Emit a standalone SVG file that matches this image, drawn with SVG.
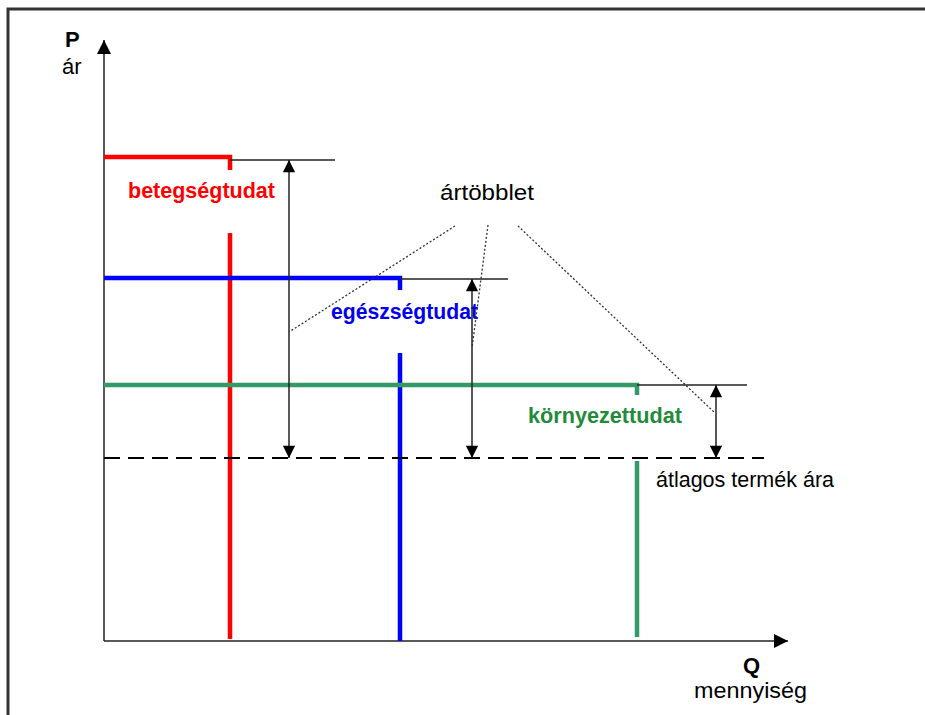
<svg xmlns="http://www.w3.org/2000/svg" width="925" height="715" viewBox="0 0 925 715">
<defs>
<marker id="ah" viewBox="0 0 12 16" refX="14" refY="7" markerWidth="14" markerHeight="14" markerUnits="userSpaceOnUse" orient="auto-start-reverse">
<path d="M0,0 L14,7 L0,14 Z" fill="#000"/>
</marker>
<marker id="ax" viewBox="0 0 14 14" refX="14" refY="7" markerWidth="14" markerHeight="14" markerUnits="userSpaceOnUse" orient="auto">
<path d="M0,0 L14,7 L0,14 Z" fill="#000"/>
</marker>
<style>
.t{font-family:"Liberation Sans",Arial,sans-serif;font-size:22px;fill:#000}
.b{font-weight:bold}
.thin{stroke:#222;stroke-width:1.5;fill:none}
.dot{stroke:#333;stroke-width:1.3;stroke-dasharray:2,2;fill:none}
.red{stroke:#ff0000;stroke-width:4.5;fill:none}
.blue{stroke:#0000ff;stroke-width:4.5;fill:none}
.green{stroke:#339966;stroke-width:4.5;fill:none}
</style>
</defs>
<rect width="925" height="715" fill="#fff"/>
<g id="frame">
<path d="M8,715 V9 H925" stroke="#333" stroke-width="3" fill="none"/>
</g>
<g id="axes">
<line x1="104" y1="641" x2="104" y2="40" class="thin" marker-end="url(#ax)"/>
<line x1="104" y1="641" x2="788" y2="641" class="thin" marker-end="url(#ax)"/>
<text x="65" y="47" class="t b" font-size="23">P</text>
<text x="62" y="74" class="t" font-size="23">ár</text>
<text x="743" y="673" class="t b" font-size="23">Q</text>
<text x="694" y="698" class="t" font-size="23" textLength="113" lengthAdjust="spacingAndGlyphs">mennyiség</text>
</g>
<g id="red">
<path d="M104,157 H230 V170" class="red"/>
<line x1="230" y1="233" x2="230" y2="639" class="red"/>
<text x="128" y="198" class="t b" style="fill:#ff0000" textLength="147" lengthAdjust="spacingAndGlyphs">betegségtudat</text>
</g>
<g id="blue">
<path d="M104,278 H400 V290" class="blue"/>
<line x1="400" y1="353" x2="400" y2="641" class="blue"/>
<text x="331" y="319" class="t b" style="fill:#0000ee" textLength="147" lengthAdjust="spacingAndGlyphs">egészségtudat</text>
</g>
<g id="green">
<path d="M104,385 H637 V395" class="green"/>
<line x1="637" y1="461" x2="637" y2="637" class="green"/>
<text x="528" y="423" class="t b" style="fill:#238a3c" textLength="154" lengthAdjust="spacingAndGlyphs">környezettudat</text>
</g>
<g id="average">
<line x1="104" y1="458" x2="764" y2="458" stroke="#000" stroke-width="1.8" stroke-dasharray="16,8"/>
<text x="656" y="487" class="t" textLength="178" lengthAdjust="spacingAndGlyphs">átlagos termék ára</text>
</g>
<g id="surplus">
<text x="440" y="200" class="t" font-size="24" textLength="94" lengthAdjust="spacingAndGlyphs">ártöbblet</text>
</g>
<g id="connectors">
<line x1="230" y1="160" x2="335" y2="160" class="thin"/>
<line x1="400" y1="279" x2="508" y2="279" class="thin"/>
<line x1="637" y1="385" x2="747" y2="385" class="thin"/>
<line x1="289" y1="458" x2="289" y2="160" class="thin" marker-start="url(#ah)" marker-end="url(#ah)"/>
<line x1="472" y1="458" x2="472" y2="279" class="thin" marker-start="url(#ah)" marker-end="url(#ah)"/>
<line x1="716" y1="458" x2="716" y2="385" class="thin" stroke="#000" marker-start="url(#ah)" marker-end="url(#ah)"/>
<line x1="455" y1="226" x2="289" y2="332" class="dot"/>
<line x1="488" y1="225" x2="472" y2="348" class="dot"/>
<line x1="518" y1="226" x2="715" y2="413" class="dot"/>
</g>
</svg>
